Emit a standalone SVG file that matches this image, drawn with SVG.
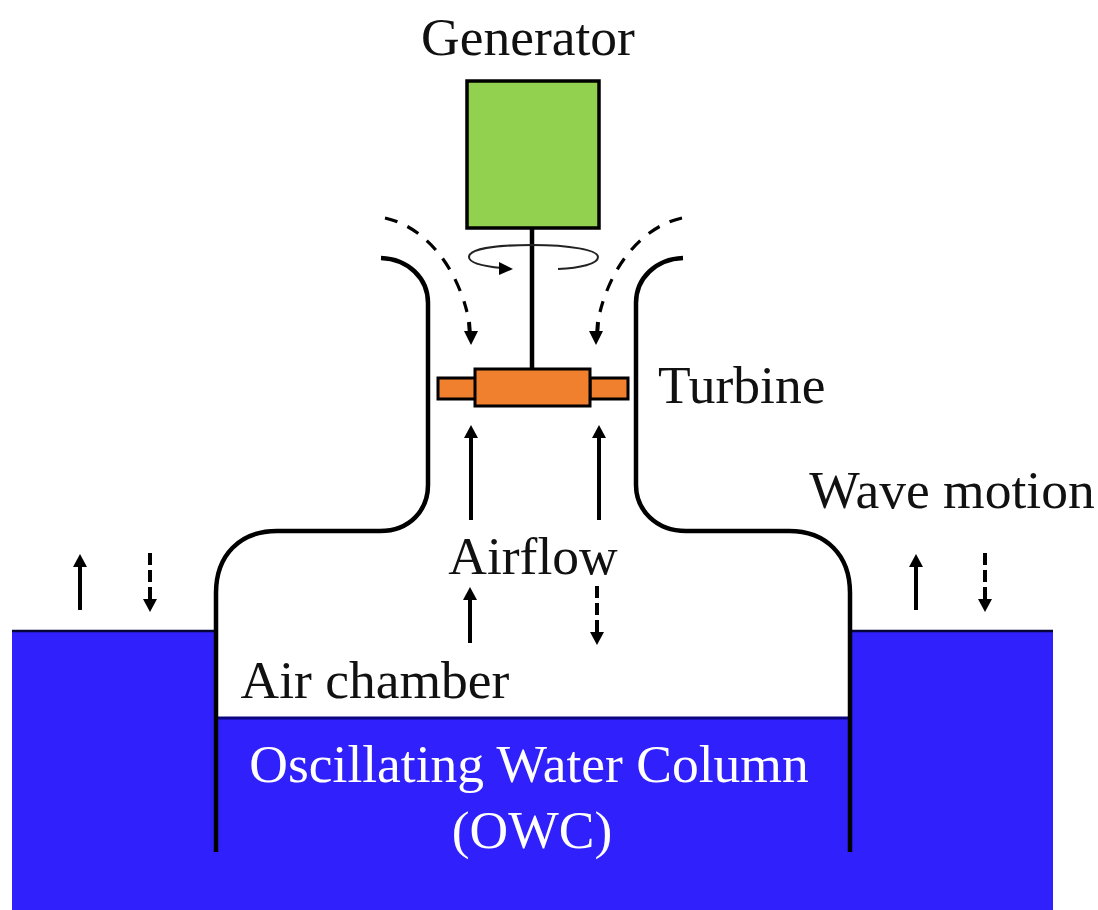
<svg xmlns="http://www.w3.org/2000/svg" width="1098" height="910" viewBox="0 0 1098 910">
<style>
text{font-family:"Liberation Serif","Times New Roman",serif;font-size:53.5px;fill:#111}
.w{stroke:#000;stroke-width:4.5;fill:none}
.a{stroke:#000;stroke-width:4;fill:none}
.c{stroke:#000;stroke-width:3.2;fill:none;stroke-dasharray:13 11}
.d{stroke:#000;stroke-width:4;fill:none;stroke-dasharray:12 5}
.b{stroke:#000;stroke-width:3;fill:#f07f2e}
.t{fill:#000}
</style>
<rect width="1098" height="910" fill="#fff"/>
<g id="water">
<path d="M12 631H216V718H850V631H1053V910H12Z" fill="#3020fb"/>
<path d="M12 631H216M850 631H1053" stroke="#05053a" stroke-width="2.5" fill="none"/>
<path d="M216 718H850" stroke="#0b0680" stroke-width="3" fill="none"/>
</g>
<g id="chamber">
<path class="w" d="M216 852V593C216 555 240 531 277 531H380C410 531 428 510 428 485V303C428 278 408 259 381 258"/>
<path class="w" d="M850 852V593C850 555 826 531 789 531H686C656 531 636 510 636 485V303C636 278 656 259 683 258"/>
</g>
<g id="generator">
<rect x="467" y="81" width="132" height="147" fill="#92d14f" stroke="#000" stroke-width="3.5"/>
<text x="528" y="55" text-anchor="middle">Generator</text>
</g>
<g id="turbine">
<path d="M532 228V369" stroke="#000" stroke-width="4.5"/>
<rect class="b" x="438" y="378" width="38" height="21"/>
<rect class="b" x="590" y="378" width="38" height="21"/>
<rect class="b" x="475" y="369" width="115" height="37"/>
<text x="658" y="403">Turbine</text>
</g>
<g id="connectors">
<path stroke="#222" stroke-width="2" fill="none" d="M502 268C480 266 469 262 469 257C469 249 495 245 532 245C570 245 598 250 598 257C598 264 580 268 558 269"/>
<path class="t" d="M499 262L513 269L499 275Z"/>
<path class="c" d="M385 218C425 227 455 265 467 312"/>
<path class="c" d="M682 218C642 227 612 265 600 312"/>
<path class="a" d="M469 322L470 335M598 322L597 335" stroke-width="3"/>
<path class="t" d="M464 331H478L471 345ZM589 331H603L596 345Z"/>
<path class="a" d="M471 520V435M599 520V435"/>
<path class="t" d="M464 438L471 425L478 438ZM592 438L599 425L606 438Z"/>
<path class="a" d="M470 643V597"/>
<path class="t" d="M463 600L470 587L477 600Z"/>
<path class="d" d="M597 586V633"/>
<path class="t" d="M590 632H604L597 645Z"/>
<path class="a" d="M80 610V565"/>
<path class="t" d="M73 567L80 554L87 567Z"/>
<path class="d" d="M150 553V600"/>
<path class="t" d="M143 599H157L150 612Z"/>
<path class="a" d="M916 610V565"/>
<path class="t" d="M909 567L916 554L923 567Z"/>
<path class="d" d="M985 553V600"/>
<path class="t" d="M978 599H992L985 612Z"/>
</g>
<g id="labels">
<text x="533" y="574" text-anchor="middle">Airflow</text>
<text x="952" y="508" text-anchor="middle">Wave motion</text>
<text x="375" y="698" text-anchor="middle">Air chamber</text>
<text x="529" y="782" text-anchor="middle" style="fill:#fff">Oscillating Water Column</text>
<text x="532" y="848" text-anchor="middle" style="fill:#fff">(OWC)</text>
</g>
</svg>
